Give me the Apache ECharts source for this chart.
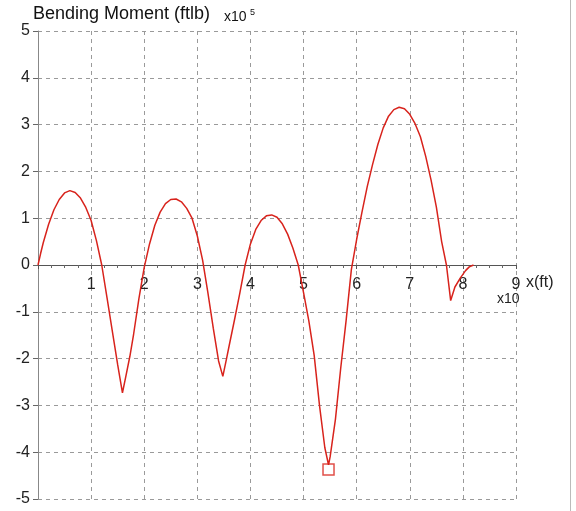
<!DOCTYPE html>
<html>
<head>
<meta charset="utf-8">
<script src="https://cdn.jsdelivr.net/npm/echarts@6/dist/echarts.min.js"></script>
<style>
html,body{margin:0;padding:0;background:#fff;}
#chart{width:576px;height:511px;}
</style>
</head>
<body>
<div id="chart"></div>
<script>
// x position (x10 ft) and bending moment (x10^5 ftlb)
const momentX = [0, 0.05, 0.1, 0.2, 0.3, 0.4, 0.5, 0.6, 0.7, 0.8, 0.9, 1.0, 1.1, 1.2, 1.3, 1.4, 1.5, 1.59,
  1.65, 1.73, 1.8, 1.9, 2.0, 2.1, 2.2, 2.3, 2.4, 2.5, 2.6, 2.7, 2.8, 2.9, 3.0, 3.1, 3.2, 3.3, 3.4, 3.48,
  3.55, 3.6, 3.7, 3.8, 3.9, 4.0, 4.1, 4.2, 4.3, 4.4, 4.5, 4.6, 4.7, 4.8, 4.9, 5.0, 5.1, 5.2, 5.3, 5.4, 5.47,
  5.5, 5.6, 5.7, 5.8, 5.9, 6.0, 6.1, 6.2, 6.3, 6.4, 6.5, 6.6, 6.7, 6.8, 6.9, 7.0, 7.1, 7.2, 7.3, 7.4, 7.5, 7.6, 7.69, 7.77,
  7.85, 7.95, 8.05, 8.12, 8.2];
const momentY = [0, 0.25, 0.48, 0.87, 1.18, 1.40, 1.54, 1.59, 1.55, 1.43, 1.23, 0.95, 0.52, 0.0, -0.70, -1.42, -2.13, -2.73,
  -2.40, -1.95, -1.48, -0.72, -0.05, 0.45, 0.85, 1.13, 1.31, 1.40, 1.41, 1.35, 1.21, 1.0, 0.62, 0.1, -0.60, -1.35, -2.05, -2.38,
  -2.0, -1.72, -1.17, -0.6, 0.0, 0.45, 0.76, 0.95, 1.05, 1.07, 1.02, 0.88, 0.66, 0.36, 0.0, -0.59, -1.2, -1.93, -3.0, -3.9, -4.27,
  -4.1, -3.3, -2.2, -1.2, -0.1, 0.55, 1.13, 1.68, 2.15, 2.58, 2.93, 3.18, 3.32, 3.37, 3.34, 3.22, 3.02, 2.74, 2.32, 1.82, 1.24, 0.5, 0.0, -0.76,
  -0.47, -0.28, -0.12, -0.04, 0.0];
const markerPoint = [5.47, -4.37];
const xTicks = [0, 1, 2, 3, 4, 5, 6, 7, 8, 9];
const yTicks = [-5, -4, -3, -2, -1, 0, 1, 2, 3, 4, 5];

const lineData = momentX.map((x, i) => [x, momentY[i]]);
const FONT = '"Liberation Sans", Arial, sans-serif';
const GRID_H = 468;

const chart = echarts.init(document.getElementById('chart'), null, {renderer: 'canvas'});
chart.setOption({
  animation: false,
  backgroundColor: '#ffffff',
  grid: {left: 38, right: 60, top: 31, bottom: 12, containLabel: false, outerBoundsMode: 'none'},
  xAxis: {
    type: 'value',
    min: xTicks[0], max: xTicks[xTicks.length - 1], interval: 1,
    offset: -GRID_H / 2,
    axisLine: {onZero: false, lineStyle: {color: '#555', width: 1}},
    axisTick: {show: true, length: 4, lineStyle: {color: '#555'}},
    minorTick: {show: true, splitNumber: 4, length: 3, lineStyle: {color: '#666'}},
    axisLabel: {
      color: '#222', fontSize: 16, fontFamily: FONT, margin: 12,
      formatter: v => (v === 0 ? '' : String(v))
    },
    splitLine: {show: true, lineStyle: {color: '#9a9a9a', type: [4, 4], width: 1}}
  },
  yAxis: {
    type: 'value',
    min: yTicks[0], max: yTicks[yTicks.length - 1], interval: 1,
    axisLine: {show: true, onZero: false, lineStyle: {color: '#888', width: 1}},
    axisTick: {show: true, length: 5, lineStyle: {color: '#666'}},
    axisLabel: {color: '#222', fontSize: 16, fontFamily: FONT, margin: 8},
    splitLine: {show: true, lineStyle: {color: '#9a9a9a', type: [4, 4], width: 1}}
  },
  series: [
    {
      type: 'line', data: lineData, showSymbol: false, smooth: false,
      lineStyle: {color: '#d8231c', width: 1.5}, z: 5
    },
    {
      type: 'scatter', data: [markerPoint], symbol: 'rect', symbolSize: 11,
      itemStyle: {color: 'rgba(255,255,255,0)', borderColor: '#d8231c', borderWidth: 1.5}, z: 6
    }
  ],
  graphic: [
    {type: 'text', left: 33, top: 5, style: {text: 'Bending Moment (ftlb)', fontSize: 18, fontFamily: FONT, fill: '#111'}},
    {type: 'text', left: 224, top: 10, style: {text: 'x10', fontSize: 14, fontFamily: FONT, fill: '#111'}},
    {type: 'text', left: 250, top: 8, style: {text: '5', fontSize: 9, fontFamily: FONT, fill: '#111'}},
    {type: 'text', left: 526, top: 275, style: {text: 'x(ft)', fontSize: 16, fontFamily: FONT, fill: '#222'}},
    {type: 'text', left: 497, top: 292, style: {text: 'x10', fontSize: 14, fontFamily: FONT, fill: '#222'}},
    {type: 'line', shape: {x1: 570.5, y1: 0, x2: 570.5, y2: 511}, style: {stroke: '#bbb', lineWidth: 1}}
  ]
});
</script>
</body>
</html>
